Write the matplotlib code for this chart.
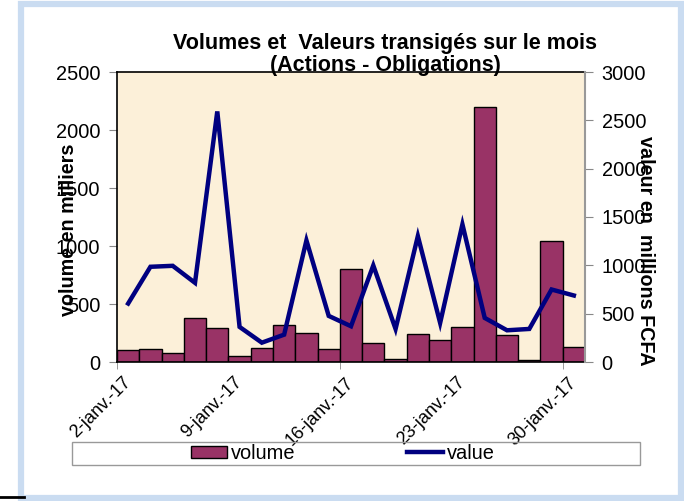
import matplotlib
matplotlib.use("Agg")
import matplotlib.pyplot as plt
from matplotlib.patches import Rectangle
from matplotlib.lines import Line2D

# daily trading sessions, January 2017
days = ["2-janv.-17", "3-janv.-17", "4-janv.-17", "5-janv.-17", "6-janv.-17",
        "9-janv.-17", "10-janv.-17", "11-janv.-17", "12-janv.-17", "13-janv.-17",
        "16-janv.-17", "17-janv.-17", "18-janv.-17", "19-janv.-17", "20-janv.-17",
        "23-janv.-17", "24-janv.-17", "25-janv.-17", "26-janv.-17", "27-janv.-17",
        "30-janv.-17"]
volume = [101, 112, 81, 377, 294, 52, 124, 320, 253, 112,
          804, 167, 26, 242, 187, 302, 2200, 233, 17, 1043, 127]
value = [605, 985, 995, 819, 2592, 363, 200, 283, 1258, 477,
         370, 999, 342, 1303, 404, 1424, 456, 328, 342, 750, 688]

plt.rcParams["font.family"] = ["Liberation Sans", "DejaVu Sans"]

fig = plt.figure(figsize=(6.84, 5.01), dpi=100)
fig.patch.set_facecolor("white")
# window frame
fig.patches.append(Rectangle((21 / 684, 3 / 501), 660 / 684, 494 / 501,
                             transform=fig.transFigure, fill=False,
                             edgecolor="#cadcf1", lw=4.5, zorder=0))
fig.lines.append(Line2D([0, 24 / 684], [4 / 501, 4 / 501], transform=fig.transFigure,
                        color="black", lw=2))

ax = fig.add_axes([117 / 684, 1 - 362 / 501, 468 / 684, 290 / 501])
ax.set_facecolor("#fcf0d9")
x = list(range(len(days)))
ax.bar(x, volume, width=1.0, align="edge", color="#993366", edgecolor="black",
       lw=1.0, label="volume", zorder=2)
ax.set_xlim(0, len(days))
ax.set_ylim(0, 2500)
ax.set_yticks(range(0, 2501, 500))
ax.tick_params(axis="y", labelsize=14.4, length=6, color="#888888", pad=6)
for s in ["left", "top", "bottom"]:
    ax.spines[s].set_color("black")
    ax.spines[s].set_linewidth(1.2)
ax.spines["right"].set_visible(False)

label_pos = [0, 5, 10, 15, 20]
ax.set_xticks([i + 0.5 for i in label_pos])
ax.set_xticklabels([days[i] for i in label_pos], rotation=45, ha="right",
                   va="center", rotation_mode="anchor", fontsize=13)
ax.tick_params(axis="x", length=0, pad=13)
ax.set_xticks([0, 10, 20], minor=True)
ax.tick_params(axis="x", which="minor", length=5, color="#888888")

ax2 = ax.twinx()
ax2.plot([i + 0.5 for i in x], value, color="#000080", lw=3.2, label="value",
         zorder=3, solid_joinstyle="miter")
ax2.set_ylim(0, 3000)
ax2.set_yticks(range(0, 3001, 500))
ax2.tick_params(axis="y", labelsize=14.4, length=6, color="#888888", pad=6)
ax2.spines["right"].set_color("#999999")
ax2.spines["right"].set_linewidth(1.5)
for s in ["left", "top", "bottom"]:
    ax2.spines[s].set_visible(False)

fig.text(68 / 684, 1 - 230 / 501, "volume en milliers", rotation=90,
         ha="center", va="center", fontsize=14.2, fontweight="bold")
fig.text(646 / 684, 1 - 251 / 501, "valeur en  millions FCFA", rotation=-90,
         ha="center", va="center", fontsize=14.2, fontweight="bold")
fig.text(385 / 684, 1 - 44 / 501, "Volumes et  Valeurs transigés sur le mois",
         ha="center", va="center", fontsize=15.5, fontweight="bold")
fig.text(385 / 684, 1 - 66 / 501, "(Actions - Obligations)",
         ha="center", va="center", fontsize=15.5, fontweight="bold")

# legend box
fig.patches.append(Rectangle((72 / 684, 1 - 465 / 501), 568 / 684, 23 / 501,
                             transform=fig.transFigure, fill=False,
                             edgecolor="#999999", lw=1))
h1, l1 = ax.get_legend_handles_labels()
h2, l2 = ax2.get_legend_handles_labels()
fig.legend(h1 + h2, l1 + l2, loc="center", bbox_to_anchor=(343 / 684, 1 - 453.5 / 501),
           ncol=2, frameon=False, fontsize=14.4, handlelength=1.8,
           handletextpad=0.2, columnspacing=5.6, handleheight=0.6)

fig.savefig("out.png", dpi=100)
